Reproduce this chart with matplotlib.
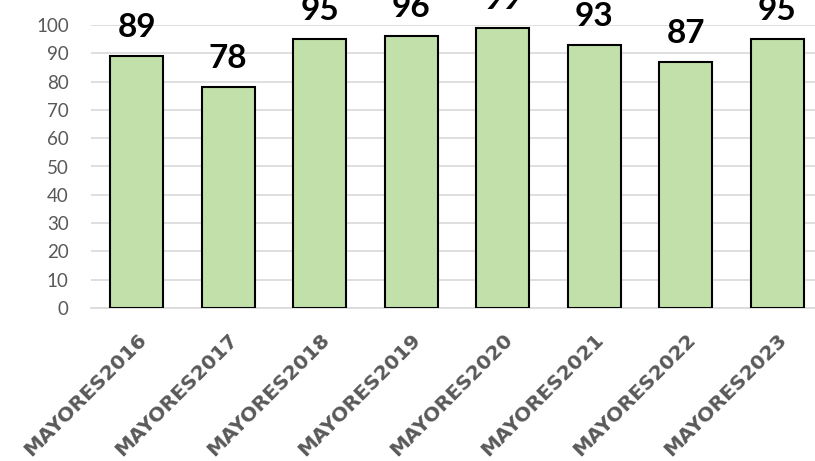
import matplotlib
matplotlib.use("Agg")
import matplotlib.pyplot as plt

categories = ["MAYORES2016", "MAYORES2017", "MAYORES2018", "MAYORES2019",
              "MAYORES2020", "MAYORES2021", "MAYORES2022", "MAYORES2023"]
values = [89, 78, 95, 96, 99, 93, 87, 95]
yticks = [0, 10, 20, 30, 40, 50, 60, 70, 80, 90, 100]

W, H = 815, 461
fig = plt.figure(figsize=(W / 100, H / 100), dpi=100)
ax = fig.add_axes([91 / W, (H - 308) / H, 732 / W, (308 - 25) / H])

x = list(range(len(categories)))
ax.bar(x, values, width=0.58, color="#C2E1AA", edgecolor="black", linewidth=1.5, zorder=3)
ax.set_xlim(-0.5, len(categories) - 0.5)
ax.set_ylim(0, 100)
ax.set_yticks(yticks)
ax.yaxis.grid(True, color="#D9D9D9", linewidth=1.2, zorder=0)
for s in ["top", "right", "left"]:
    ax.spines[s].set_visible(False)
ax.spines["bottom"].set_color("#D9D9D9")
ax.spines["bottom"].set_linewidth(1.2)
ax.tick_params(axis="both", length=0)
ax.tick_params(axis="y", pad=16, labelsize=13.5, labelcolor="#595959")
ax.set_xticks(x)
ax.set_xticklabels(categories, rotation=45, ha="right", rotation_mode="anchor",
                   fontsize=14.5, fontweight="bold", color="#595959")
ax.tick_params(axis="x", pad=16)
for lab in ax.get_yticklabels():
    lab.set_family("Lato")
for lab in ax.get_xticklabels():
    lab.set_family("DejaVu Sans")

for xi, v in zip(x, values):
    ax.annotate(str(v), (xi, v), xytext=(0, 10), textcoords="offset points",
                ha="center", va="bottom", fontsize=24, fontweight="bold",
                family="Lato", color="black", clip_on=False, annotation_clip=False)

fig.savefig("out.png", dpi=100)
